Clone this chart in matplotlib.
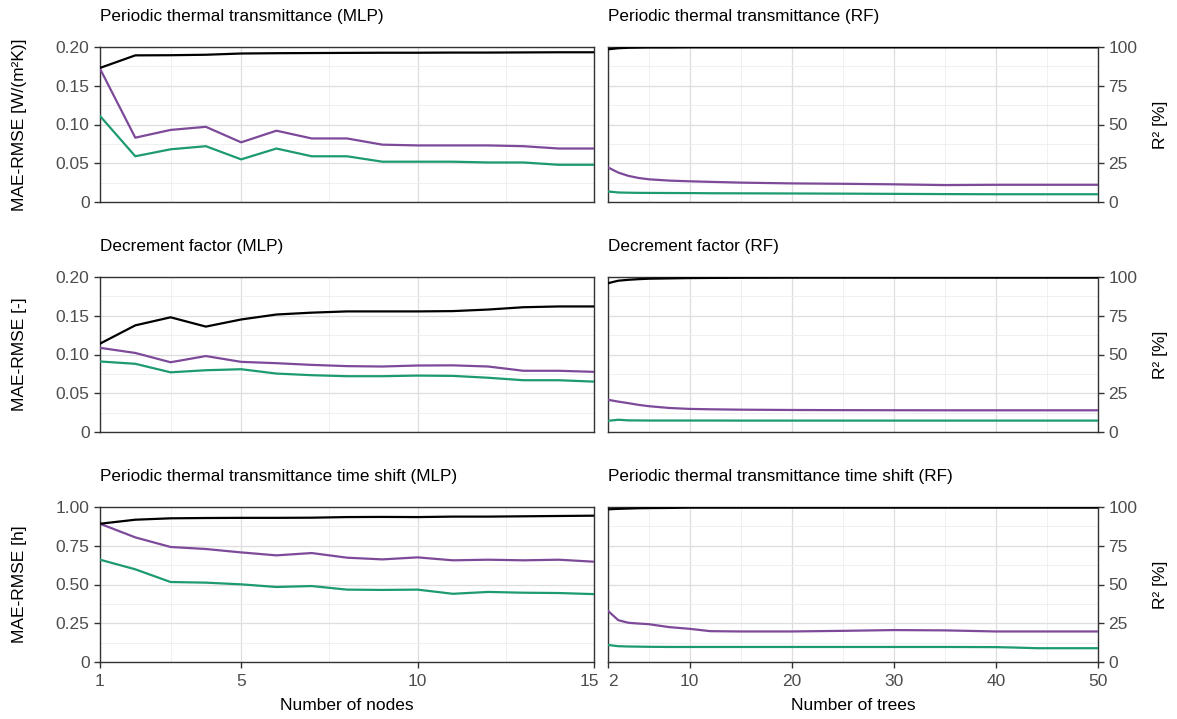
import matplotlib
matplotlib.use('Agg')
import matplotlib.pyplot as plt
import matplotlib.transforms as mtransforms
from matplotlib.ticker import FixedLocator

plt.rcParams['font.family'] = ['Liberation Sans', 'DejaVu Sans']

# --- DATA ---
nodes = list(range(1, 16))
trees = [2, 3, 4, 5, 6, 8, 10, 12, 15, 20, 25, 30, 35, 40, 42, 44, 50]

# periodic thermal transmittance
ptt_mlp_rmse = [0.172, 0.083, 0.093, 0.097, 0.077, 0.092, 0.082, 0.082, 0.074, 0.073, 0.073, 0.073, 0.072, 0.069, 0.069]
ptt_mlp_mae = [0.111, 0.059, 0.068, 0.072, 0.055, 0.069, 0.059, 0.059, 0.052, 0.052, 0.052, 0.051, 0.051, 0.048, 0.048]
ptt_mlp_r2 = [86.5, 94.6, 94.7, 95.0, 95.8, 96.0, 96.1, 96.2, 96.3, 96.3, 96.4, 96.4, 96.5, 96.6, 96.6]
ptt_rf_rmse = [0.0446, 0.038, 0.0337, 0.031, 0.0293, 0.0276, 0.0267, 0.026, 0.025, 0.024, 0.0235, 0.0228, 0.0218, 0.0222, 0.0222, 0.0222, 0.0222]
ptt_rf_mae = [0.0136, 0.0123, 0.012, 0.0118, 0.0117, 0.0116, 0.0115, 0.0113, 0.0112, 0.011, 0.0108, 0.0105, 0.0102, 0.010, 0.010, 0.010, 0.010]
ptt_rf_r2 = [98.5, 99.2, 99.5, 99.6, 99.7, 99.7, 99.8, 99.8, 99.8, 99.8, 99.8, 99.8, 99.8, 99.8, 99.8, 99.8, 99.8]

# decrement factor
df_mlp_rmse = [0.1086, 0.102, 0.090, 0.098, 0.0905, 0.0888, 0.0866, 0.085, 0.0845, 0.0858, 0.086, 0.0845, 0.079, 0.079, 0.0776]
df_mlp_mae = [0.091, 0.088, 0.077, 0.0797, 0.081, 0.0754, 0.0733, 0.072, 0.072, 0.0728, 0.0724, 0.070, 0.0668, 0.0668, 0.065]
df_mlp_r2 = [57.0, 68.8, 74.0, 68.0, 72.6, 75.8, 77.0, 77.8, 77.8, 77.8, 78.0, 79.0, 80.5, 81.0, 81.0]
df_rf_rmse = [0.0416, 0.0392, 0.0372, 0.035, 0.0333, 0.031, 0.0298, 0.0293, 0.0288, 0.0284, 0.0282, 0.0281, 0.028, 0.028, 0.028, 0.028, 0.028]
df_rf_mae = [0.0144, 0.0158, 0.015, 0.0149, 0.0148, 0.0148, 0.0148, 0.0148, 0.0147, 0.0147, 0.0147, 0.0147, 0.0147, 0.0147, 0.0147, 0.0147, 0.0147]
df_rf_r2 = [96.0, 97.6, 98.2, 98.6, 98.9, 99.1, 99.3, 99.4, 99.5, 99.6, 99.6, 99.6, 99.6, 99.6, 99.6, 99.6, 99.6]

# time shift
ts_mlp_rmse = [0.892, 0.804, 0.742, 0.729, 0.707, 0.688, 0.703, 0.673, 0.662, 0.675, 0.656, 0.660, 0.656, 0.660, 0.647]
ts_mlp_mae = [0.660, 0.598, 0.516, 0.512, 0.501, 0.484, 0.490, 0.467, 0.465, 0.467, 0.440, 0.452, 0.447, 0.445, 0.438]
ts_mlp_r2 = [89.2, 91.8, 92.7, 92.9, 93.0, 93.0, 93.1, 93.5, 93.6, 93.5, 93.8, 93.8, 94.0, 94.2, 94.4]
ts_rf_rmse = [0.33, 0.27, 0.253, 0.248, 0.244, 0.225, 0.214, 0.199, 0.197, 0.197, 0.201, 0.206, 0.204, 0.197, 0.197, 0.197, 0.197]
ts_rf_mae = [0.110, 0.102, 0.100, 0.099, 0.098, 0.097, 0.097, 0.097, 0.097, 0.097, 0.097, 0.097, 0.097, 0.096, 0.093, 0.089, 0.089]
ts_rf_r2 = [98.5, 98.8, 99.0, 99.2, 99.3, 99.4, 99.6, 99.6, 99.6, 99.6, 99.6, 99.6, 99.6, 99.6, 99.6, 99.6, 99.6]

titles = ['Periodic thermal transmittance', 'Decrement factor', 'Periodic thermal transmittance time shift']
ylabels = ['MAE-RMSE [W/(m²K)]', 'MAE-RMSE [-]', 'MAE-RMSE [h]']
ymax = [0.2, 0.2, 1.0]
yticks = [[0, 0.05, 0.10, 0.15, 0.20], [0, 0.05, 0.10, 0.15, 0.20], [0, 0.25, 0.50, 0.75, 1.00]]
yticklabels = [['0', '0.05', '0.10', '0.15', '0.20'], ['0', '0.05', '0.10', '0.15', '0.20'],
               ['0', '0.25', '0.50', '0.75', '1.00']]
mlp_data = [(ptt_mlp_rmse, ptt_mlp_mae, ptt_mlp_r2), (df_mlp_rmse, df_mlp_mae, df_mlp_r2),
            (ts_mlp_rmse, ts_mlp_mae, ts_mlp_r2)]
rf_data = [(ptt_rf_rmse, ptt_rf_mae, ptt_rf_r2), (df_rf_rmse, df_rf_mae, df_rf_r2),
           (ts_rf_rmse, ts_rf_mae, ts_rf_r2)]

PURPLE = '#7d4a9a'
GREEN = '#1d9a72'
BORDER = '#333333'
TICKTXT = '#4d4d4d'

W, H = 1177, 719
fig = plt.figure(figsize=(W / 100, H / 100), dpi=100)


def px_axes(x0, y0, x1, y1):
    return fig.add_axes([x0 / W, 1 - y1 / H, (x1 - x0) / W, (y1 - y0) / H])


def nudge(label, dx):
    label.set_transform(label.get_transform() + mtransforms.ScaledTranslation(dx / 100, 0, fig.dpi_scale_trans))


tops = [47, 277, 507]
ph = 155
for r in range(3):
    for c in range(2):
        if c == 0:
            ax = px_axes(100, tops[r], 594, tops[r] + ph)
            xs = nodes
            rmse, mae, r2 = mlp_data[r]
            ax.set_xlim(1, 15)
            ax.xaxis.set_major_locator(FixedLocator([1, 5, 10, 15]))
            ax.xaxis.set_minor_locator(FixedLocator([3, 7.5, 12.5]))
            ax.set_xticklabels(['1', '5', '10', '15'])
            tx = 100
            title = titles[r] + ' (MLP)'
        else:
            ax = px_axes(608, tops[r], 1098, tops[r] + ph)
            xs = trees
            rmse, mae, r2 = rf_data[r]
            ax.set_xlim(2, 50)
            ax.xaxis.set_major_locator(FixedLocator([2, 10, 20, 30, 40, 50]))
            ax.xaxis.set_minor_locator(FixedLocator([6, 15, 25, 35, 45]))
            ax.set_xticklabels(['2', '10', '20', '30', '40', '50'])
            tx = 608
            title = titles[r] + ' (RF)'

        ax.set_ylim(0, ymax[r])
        ax.yaxis.set_major_locator(FixedLocator(yticks[r]))
        ax.set_yticklabels(yticklabels[r])
        ax.yaxis.set_minor_locator(FixedLocator([v + ymax[r] / 8 for v in yticks[r][:-1]]))
        ax.grid(True, which='major', color='#dedede', lw=0.9)
        ax.grid(True, which='minor', color='#eeeeee', lw=0.6)
        ax.set_axisbelow(True)
        for s in ax.spines.values():
            s.set_color(BORDER)
            s.set_linewidth(1.0)
        ax.tick_params(which='minor', length=0)
        ax.tick_params(which='major', colors=BORDER, labelcolor=TICKTXT, labelsize=12.5, length=4, width=1)

        ax.plot(xs, rmse, color=PURPLE, lw=1.6, zorder=3)
        ax.plot(xs, mae, color=GREEN, lw=1.6, zorder=3)

        ax2 = ax.twinx()
        ax2.set_ylim(0, 100)
        ax2.plot(xs, r2, color='black', lw=1.6, zorder=3)
        for s in ax2.spines.values():
            s.set_visible(False)

        if c == 0:
            ax2.set_yticks([])
            fig.text(20 / W, 1 - (tops[r] + ph / 2) / H, ylabels[r], rotation=90, ha='center', va='center',
                     fontsize=12.5, color='black')
        else:
            ax.tick_params(axis='y', left=False, labelleft=False)
            ax2.set_yticks([0, 25, 50, 75, 100])
            ax2.tick_params(colors=BORDER, labelcolor=TICKTXT, labelsize=12.5, length=4, width=1)
            fig.text(1160 / W, 1 - (tops[r] + ph / 2) / H, 'R² [%]', rotation=90, ha='center', va='center',
                     fontsize=12.5, color='black')

        if r < 2:
            ax.tick_params(axis='x', bottom=False, labelbottom=False)
        else:
            ax.tick_params(axis='x', pad=5)
            fig.canvas.draw()
            labels = ax.get_xticklabels()
            if c == 0:
                nudge(labels[-1], -5)
            else:
                nudge(labels[0], 5)

        fig.text(tx / W, 1 - (tops[r] - 30) / H, title, ha='left', va='center', fontsize=12.3, color='black')

fig.text(347 / W, 1 - 705 / H, 'Number of nodes', ha='center', va='center', fontsize=12.5)
fig.text(853 / W, 1 - 705 / H, 'Number of trees', ha='center', va='center', fontsize=12.5)

fig.savefig('out.png', dpi=100, facecolor='white')
